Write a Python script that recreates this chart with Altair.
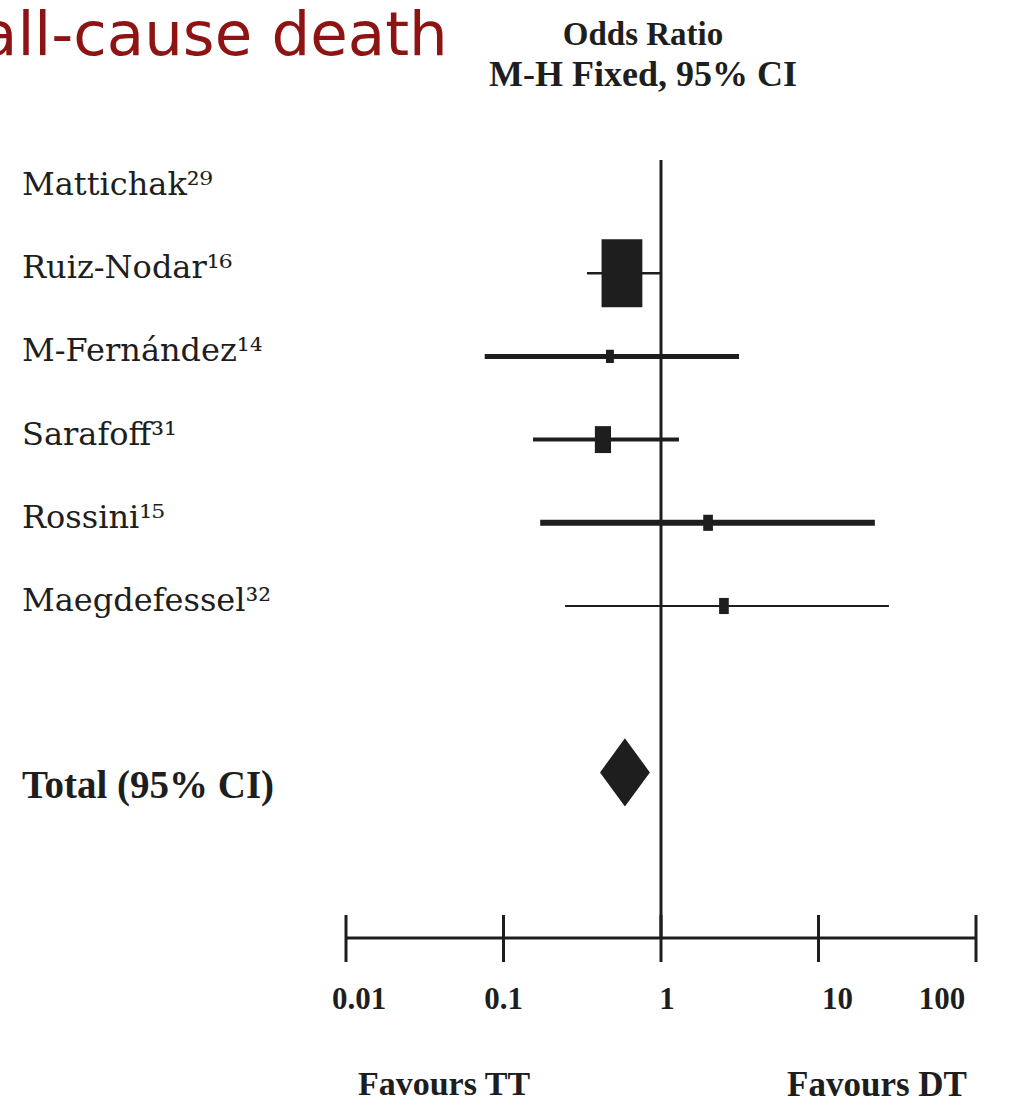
import altair as alt
import pandas as pd

# ---------------- data ----------------
studies = ["Mattichak", "Ruiz-Nodar", "M-Fernández", "Sarafoff", "Rossini", "Maegdefessel"]
refs = ["²⁹", "¹⁶", "¹⁴", "³¹", "¹⁵", "³²"]
odds_ratio = [None, 0.565, 0.474, 0.428, 1.99, 2.51]
ci_low = [None, 0.339, 0.076, 0.154, 0.171, 0.246]
ci_high = [None, 0.99, 3.13, 1.30, 22.8, 28.0]
weights = [None, 76.5, 2.9, 12.0, 4.3, 4.3]

total_label = "Total (95% CI)"
total_or = 0.59
total_low = 0.41
total_high = 0.85

ticks = [0.01, 0.1, 1, 10, 100]
tick_labels = ["0.01", "0.1", "1", "10", "100"]

title_text = "all-cause death"
header1 = "Odds Ratio"
header2 = "M-H Fixed, 95% CI"
fav_left = "Favours TT"
fav_right = "Favours DT"

# ---------------- styles / layout ----------------
W, H = 1017, 1113
PAD_L, PAD_R = 346, 41
PW = W - PAD_L - PAD_R
ROW0, STEP = 190.0, 83.2
line_widths = [2.5, 5, 4, 6, 2]          # per study with a CI
tick_dx = [13, 0, 6, 19, -34]
DIAMOND_HALF = 0.41
SERIF = "Liberation Serif"
LABEL_FONT = "DejaVu Serif"
INK = "#1e1e1e"
BIG_BOX_AREA = 4624

rows = list(range(len(studies)))
total_row = len(studies) + 1

xs = alt.Scale(type="log", domain=[0.01, 100], nice=False)
ys = alt.Scale(domain=[-ROW0 / STEP, (H - ROW0) / STEP], reverse=True, nice=False, zero=False)

df = pd.DataFrame({
    "study": studies,
    "label": [s + r for s, r in zip(studies, refs)],
    "row": rows,
    "or": odds_ratio,
    "low": ci_low,
    "high": ci_high,
    "weight": weights,
})
dci = df.dropna(subset=["or"]).copy()
ci_studies = list(dci["study"])

base = alt.Chart(dci)

ci_lines = base.mark_rule(color=INK).encode(
    x=alt.X("low:Q", scale=xs, axis=None),
    x2="high:Q",
    y=alt.Y("row:Q", scale=ys, axis=None),
    strokeWidth=alt.StrokeWidth(
        "study:N",
        scale=alt.Scale(type="ordinal", domain=ci_studies, range=line_widths),
        legend=None,
    ),
)

boxes = base.mark_point(
    shape="M-0.6,-1H0.6V1H-0.6Z", filled=True, color=INK, opacity=1
).encode(
    x=alt.X("or:Q", scale=xs, axis=None),
    y=alt.Y("row:Q", scale=ys, axis=None),
    size=alt.Size(
        "weight:Q",
        scale=alt.Scale(domain=[0, max(w for w in weights if w)], range=[0, BIG_BOX_AREA], zero=True),
        legend=None,
    ),
)

diamond_df = pd.DataFrame({
    "x": [total_low, total_or, total_high],
    "y": [total_row, total_row - DIAMOND_HALF, total_row],
    "y2": [total_row, total_row + DIAMOND_HALF, total_row],
})
diamond = alt.Chart(diamond_df).mark_area(color=INK, orient="vertical", opacity=1).encode(
    x=alt.X("x:Q", scale=xs, axis=None),
    y=alt.Y("y:Q", scale=ys, axis=None),
    y2="y2:Q",
)

labels = alt.Chart(df).mark_text(
    align="left", baseline="middle", font=LABEL_FONT, fontSize=32, color=INK, dy=-5
).encode(
    x=alt.value(22 - PAD_L),
    y=alt.Y("row:Q", scale=ys, axis=None),
    text="label:N",
)

total_df = pd.DataFrame({"label": [total_label], "row": [total_row]})
total_text = alt.Chart(total_df).mark_text(
    align="left", baseline="middle", font=SERIF, fontSize=39, fontWeight="bold", color=INK, dy=14
).encode(
    x=alt.value(22 - PAD_L),
    y=alt.Y("row:Q", scale=ys, axis=None),
    text="label:N",
)

ref_df = pd.DataFrame({"x": [1]})
ref_line = alt.Chart(ref_df).mark_rule(color=INK, strokeWidth=3).encode(
    x=alt.X("x:Q", scale=xs, axis=None),
    y=alt.value(160),
    y2=alt.value(938),
)

axis_df = pd.DataFrame({"a": [ticks[0]], "b": [ticks[-1]]})
axis_line = alt.Chart(axis_df).mark_rule(color=INK, strokeWidth=3).encode(
    x=alt.X("a:Q", scale=xs, axis=None),
    x2="b:Q",
    y=alt.value(938),
)

tick_df = pd.DataFrame({"t": ticks, "lab": tick_labels})
tick_marks = alt.Chart(tick_df).mark_rule(color=INK, strokeWidth=3).encode(
    x=alt.X("t:Q", scale=xs, axis=None),
    y=alt.value(915),
    y2=alt.value(962),
)

tick_texts = []
for t, lab, dx in zip(ticks, tick_labels, tick_dx):
    tick_texts.append(
        alt.Chart(pd.DataFrame({"t": [t], "lab": [lab]})).mark_text(
            align="center", baseline="middle", font=SERIF, fontSize=31, fontWeight="bold", color=INK, dx=dx
        ).encode(
            x=alt.X("t:Q", scale=xs, axis=None),
            y=alt.value(1000),
            text="lab:N",
        )
    )


def free_text(txt, x, y, size, weight="bold", font=SERIF, color=INK, align="center"):
    return alt.Chart(pd.DataFrame({"s": [txt]})).mark_text(
        align=align, baseline="middle", font=font, fontSize=size, fontWeight=weight, color=color
    ).encode(x=alt.value(x - PAD_L), y=alt.value(y), text="s:N")


title = alt.Chart(pd.DataFrame({"s": [title_text]})).mark_text(
    align="left", baseline="alphabetic", font="DejaVu Sans", fontSize=61, color="#8E1414"
).encode(x=alt.value(-20 - PAD_L), y=alt.value(55), text="s:N")

h1 = free_text(header1, 643, 35, 33)
h2 = free_text(header2, 643, 75, 36)
f1 = free_text(fav_left, 444, 1085, 34)
f2 = free_text(fav_right, 877, 1085, 35)

chart = alt.layer(
    ref_line, axis_line, tick_marks, ci_lines, boxes, diamond,
    labels, total_text, *tick_texts, title, h1, h2, f1, f2
).properties(
    width=PW, height=H,
    autosize=alt.AutoSizeParams(type="none"),
    padding={"left": PAD_L, "right": PAD_R, "top": 0, "bottom": 0},
    background="white",
).configure_view(stroke=None)

chart.save("out.html", embed_options={"renderer": "svg", "actions": False})
